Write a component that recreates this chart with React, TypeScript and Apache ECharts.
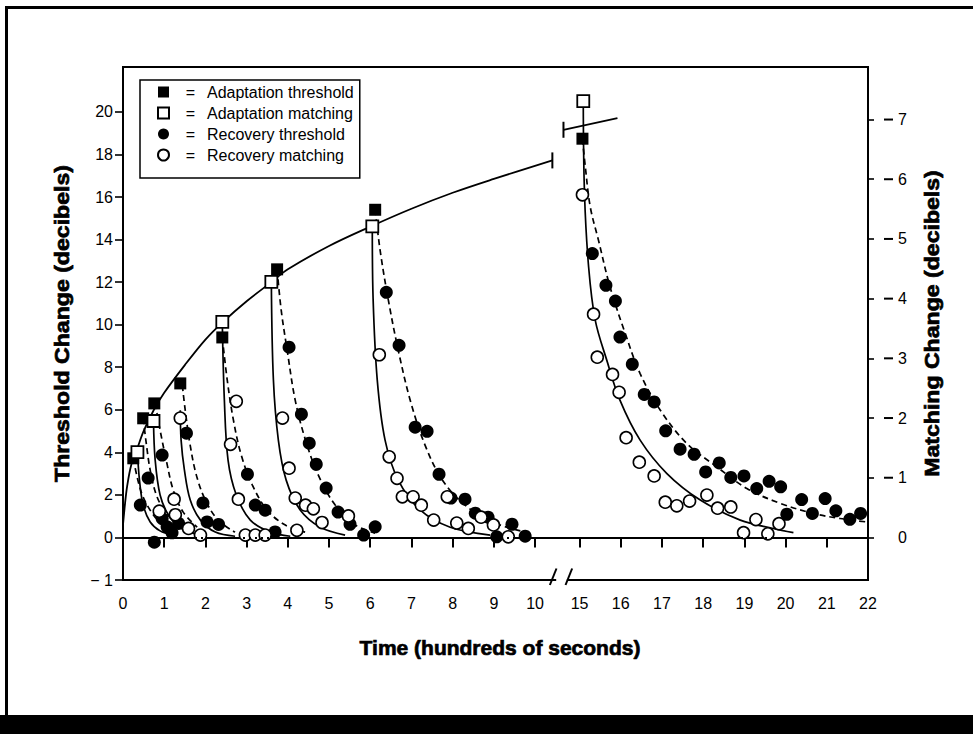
import React, { useEffect, useRef } from 'react';
import * as echarts from 'echarts';

// ---------- axis break (time axis: 0..10.5, then 15..22) ----------
const BREAK_START = 10.5;
const BREAK_END = 15;
const BREAK_WIDTH = 0.58; // axis units used by the broken stretch
const xpos = (t: number) =>
  t <= BREAK_START
    ? t
    : t >= BREAK_END
    ? t - (BREAK_END - BREAK_START - BREAK_WIDTH)
    : BREAK_START + ((t - BREAK_START) * BREAK_WIDTH) / (BREAK_END - BREAK_START);

// ---------- tick labels ----------
const xTickLabels = [0, 1, 2, 3, 4, 5, 6, 7, 8, 9, 10, 15, 16, 17, 18, 19, 20, 21, 22];
const yLeftTickValues = [-2, 0, 2, 4, 6, 8, 10, 12, 14, 16, 18, 20];
const yLeftTickLabels = ['\u2212 1', '0', '2', '4', '6', '8', '10', '12', '14', '16', '18', '20'];
const yRightTicks = [0, 1, 2, 3, 4, 5, 6, 7];

// ---------- data (time in hundreds of seconds) ----------
// Adaptation threshold (filled squares), threshold change dB
const adaptThreshold: [number, number][] = [
  [0.25, 3.72], [0.49, 5.6], [0.76, 6.3], [1.39, 7.24], [2.41, 9.4], [3.74, 12.6], [6.12, 15.4], [15.07, 18.74],
];
// Adaptation matching (open squares), matching change dB
const adaptMatching: [number, number][] = [
  [0.35, 1.43], [0.74, 1.95], [2.41, 3.61], [3.6, 4.28], [6.05, 5.21], [15.09, 7.31],
];
// Recovery threshold (filled circles), threshold change dB
const recThreshold: [number, number][] = [
  [0.42, 1.52], [0.61, 2.79], [0.76, -0.22], [0.95, 3.87], [0.95, 0.89], [1.07, 0.5], [1.19, 0.22], [1.35, 0.66],
  [1.54, 4.9], [1.94, 1.62], [2.04, 0.73], [2.32, 0.61],
  [3.02, 2.97], [3.21, 1.52], [3.45, 1.28], [3.69, 0.26],
  [4.03, 8.94], [4.33, 5.79], [4.52, 4.43], [4.69, 3.44], [4.93, 2.32], [5.22, 1.19], [5.51, 0.62], [5.84, 0.11], [6.12, 0.5],
  [6.39, 11.52], [6.7, 9.03], [7.09, 5.18], [7.38, 4.99], [7.67, 2.97], [7.96, 1.85], [8.3, 1.8], [8.55, 1.14],
  [8.86, 0.95], [9.07, 0.03], [9.44, 0.62], [9.76, 0.06],
  [15.31, 13.34], [15.64, 11.85], [15.87, 11.11], [15.98, 9.42], [16.28, 8.14], [16.57, 6.72], [16.81, 6.37],
  [17.09, 5.01], [17.44, 4.15], [17.78, 3.91], [18.06, 3.08], [18.39, 3.5], [18.67, 2.82], [18.99, 2.89],
  [19.3, 2.3], [19.6, 2.64], [19.88, 2.38], [20.03, 1.09], [20.39, 1.78], [20.65, 1.13], [20.96, 1.83],
  [21.22, 1.25], [21.56, 0.85], [21.82, 1.13],
];
// Recovery matching (open circles), matching change dB
const recMatching: [number, number][] = [
  [0.88, 0.44], [1.24, 0.64], [1.27, 0.38], [1.59, 0.15], [1.88, 0.04], [1.39, 2.0],
  [2.61, 1.56], [2.75, 2.28], [2.8, 0.64], [2.97, 0.04], [3.21, 0.04], [3.45, 0.04],
  [3.87, 2.0], [4.03, 1.16], [4.18, 0.66], [4.22, 0.12], [4.43, 0.54], [4.62, 0.48], [4.83, 0.25], [5.47, 0.36],
  [6.22, 3.06], [6.46, 1.35], [6.65, 0.99], [6.78, 0.68], [7.04, 0.68], [7.24, 0.54], [7.54, 0.29], [7.87, 0.68],
  [8.1, 0.24], [8.38, 0.15], [8.69, 0.34], [8.99, 0.21], [9.35, 0.01],
  [15.07, 5.74], [15.34, 3.74], [15.43, 3.02], [15.8, 2.73], [15.96, 2.43], [16.13, 1.67], [16.45, 1.26],
  [16.81, 1.03], [17.08, 0.59], [17.36, 0.53], [17.67, 0.61], [18.09, 0.71], [18.35, 0.49], [18.67, 0.51],
  [18.98, 0.08], [19.28, 0.3], [19.57, 0.06], [19.84, 0.23],
];

// Fitted adaptation curve (threshold change dB)
const adaptCurve: [number, number][] = [
  [0, 0.6], [0.05, 1.6], [0.1, 2.4], [0.2, 3.4], [0.35, 4.2], [0.5, 5.0], [0.75, 6.0], [1, 6.8], [1.5, 8.1],
  [2, 9.3], [2.41, 10.1], [3, 11.1], [3.6, 12.0], [4, 12.6], [5, 13.7], [6.05, 14.65], [7, 15.45], [8, 16.2],
  [9, 16.85], [10.42, 17.72],
];
const adaptCurveEnd: [number, number] = [10.42, 17.72];
const adaptContinuation: [number, number][] = [[11.97, 19.16], [15.92, 19.71]];

// Fitted recovery curves: matching (solid, matching dB) and threshold (dashed, threshold dB)
const recMatchCurves: [number, number][][] = [
  [[0.35, 1.43], [0.4, 0.96], [0.49, 0.54], [0.66, 0.26], [0.9, 0.11], [1.2, 0.04]],
  [[0.74, 1.95], [0.78, 1.3], [0.9, 0.71], [1.1, 0.38], [1.39, 0.16], [1.75, 0.06]],
  [[1.39, 2.13], [1.41, 1.63], [1.49, 1.13], [1.63, 0.63], [1.88, 0.29], [2.24, 0.09], [2.72, 0.02]],
  [[2.41, 3.61], [2.46, 2.3], [2.55, 1.29], [2.75, 0.71], [3.09, 0.29], [3.57, 0.09], [4.06, 0.02]],
  [[3.6, 4.28], [3.65, 2.64], [3.77, 1.63], [3.96, 0.96], [4.3, 0.46], [4.79, 0.17], [5.39, 0.04]],
  [[6.05, 5.21], [6.07, 3.99], [6.17, 2.64], [6.36, 1.63], [6.68, 0.96], [7.21, 0.46], [7.94, 0.17], [8.91, 0.04]],
  [[15.09, 7.31], [15.12, 5.76], [15.22, 4.53], [15.38, 3.64], [15.66, 2.97], [15.98, 2.3], [16.47, 1.63],
    [17.12, 1.07], [17.92, 0.63], [18.9, 0.29], [19.7, 0.15], [20.19, 0.08]],
];
const recThreshCurves: [number, number][][] = [
  [[0.25, 3.72], [0.35, 2.78], [0.47, 1.99], [0.66, 1.28], [0.9, 0.72], [1.27, 0.34]],
  [[0.49, 5.6], [0.57, 4.34], [0.66, 3.16], [0.81, 1.99], [1.03, 1.19], [1.34, 0.58]],
  [[0.78, 6.31], [0.9, 5.04], [1.05, 3.63], [1.22, 2.22], [1.46, 1.19], [1.8, 0.48]],
  [[1.44, 7.16], [1.51, 5.98], [1.63, 4.34], [1.78, 2.93], [2.0, 1.75], [2.31, 0.81], [2.72, 0.25]],
  [[2.41, 9.4], [2.53, 7.39], [2.68, 5.51], [2.87, 3.87], [3.14, 2.46], [3.5, 1.28], [3.94, 0.58], [4.42, 0.25]],
  [[3.74, 12.6], [3.84, 10.67], [3.985, 8.79], [4.18, 6.44], [4.43, 4.57], [4.74, 2.93], [5.15, 1.52], [5.64, 0.58], [6.12, 0.2]],
  [[6.12, 15.42], [6.24, 13.49], [6.44, 11.15], [6.68, 8.8], [6.97, 6.45], [7.33, 4.34], [7.75, 2.7], [8.3, 1.52], [9.03, 0.67], [9.88, 0.2]],
  [[15.07, 18.74], [15.14, 17.41], [15.26, 15.53], [15.46, 13.96], [15.74, 11.77], [16.11, 9.58], [16.47, 7.7],
    [16.96, 5.98], [17.6, 4.42], [18.33, 3.32], [19.06, 2.3], [19.87, 1.6], [20.67, 1.13], [21.32, 0.89], [21.97, 0.73]],
];

const NAMES = ['Adaptation threshold', 'Adaptation matching', 'Recovery threshold', 'Recovery matching'];
const FONT = '"Liberation Sans", Arial, Helvetica, sans-serif';
const X_MAX_POS = xpos(22);
const Y_LEFT_MIN = -2;
const Y_LEFT_MAX = 22.11;
const Y_RIGHT_MIN = -0.713;
const Y_RIGHT_MAX = 7.88;
const BREAK_MARKS = [10.44, 10.82]; // axis positions of the // marks

const toXY = (pts: [number, number][]) => pts.map(([t, v]) => [xpos(t), v]);

const titleStyle = (text: string) => ({
  text,
  fontSize: 21,
  fontWeight: 'bold',
  fontFamily: FONT,
  fill: '#000',
  stroke: '#000',
  lineWidth: 0.7,
  align: 'center',
  verticalAlign: 'middle',
});

export default function App() {
  const ref = useRef<HTMLDivElement>(null);
  useEffect(() => {
    const el = ref.current!;
    const chart = echarts.init(el, null, { renderer: 'svg' });
    const xTickPos = xTickLabels.map(xpos);

    const lineBase = {
      type: 'line' as const,
      symbol: 'none',
      showSymbol: false,
      smooth: 0.35,
      silent: true,
      z: 2,
      animation: false,
    };

    const series: any[] = [];
    series.push({
      ...lineBase,
      name: 'adaptCurve',
      data: toXY(adaptCurve),
      lineStyle: { color: '#000', width: 1.8 },
      markLine: {
        silent: true,
        symbol: ['none', 'none'],
        label: { show: false },
        lineStyle: { type: [2, 4], color: '#000', width: 2 },
        data: [{ yAxis: 0 }],
      },
    });
    series.push({
      ...lineBase,
      name: 'adaptCont',
      smooth: false,
      data: toXY(adaptContinuation),
      lineStyle: { color: '#000', width: 1.8 },
    });
    series.push({
      type: 'scatter',
      name: 'caps',
      silent: true,
      symbol: 'rect',
      symbolSize: [2, 16],
      itemStyle: { color: '#000', opacity: 1 },
      data: toXY([adaptCurveEnd, adaptContinuation[0]]),
      z: 3,
    });
    recMatchCurves.forEach((c, i) =>
      series.push({
        ...lineBase,
        name: 'rm' + i,
        yAxisIndex: 1,
        data: toXY(c),
        lineStyle: { color: '#000', width: 1.7 },
      })
    );
    recThreshCurves.forEach((c, i) =>
      series.push({
        ...lineBase,
        name: 'rt' + i,
        data: toXY(c),
        lineStyle: { color: '#000', width: 1.7, type: [6, 4] },
      })
    );
    series.push({
      type: 'scatter',
      name: NAMES[0],
      symbol: 'rect',
      symbolSize: 12,
      itemStyle: { color: '#000', opacity: 1 },
      data: toXY(adaptThreshold),
      z: 4,
    });
    series.push({
      type: 'scatter',
      name: NAMES[1],
      yAxisIndex: 1,
      symbol: 'rect',
      symbolSize: 12,
      itemStyle: { color: '#fff', borderColor: '#000', borderWidth: 1.8, opacity: 1 },
      data: toXY(adaptMatching),
      z: 4,
    });
    series.push({
      type: 'scatter',
      name: NAMES[2],
      symbol: 'circle',
      symbolSize: 13,
      itemStyle: { color: '#000', opacity: 1 },
      data: toXY(recThreshold),
      z: 4,
    });
    series.push({
      type: 'scatter',
      name: NAMES[3],
      yAxisIndex: 1,
      symbol: 'circle',
      symbolSize: 12,
      itemStyle: { color: '#fff', borderColor: '#000', borderWidth: 1.6, opacity: 1 },
      data: toXY(recMatching),
      z: 4,
    });

    chart.setOption({
      animation: false,
      textStyle: { fontFamily: FONT },
      grid: {
        left: 123,
        right: 105,
        top: 67,
        bottom: 154,
        show: true,
        borderColor: '#000',
        borderWidth: 2,
        outerBoundsMode: 'none',
      },
      legend: {
        data: NAMES,
        orient: 'vertical',
        left: 140,
        top: 80,
        padding: [4, 6, 15, 17],
        itemWidth: 11,
        itemHeight: 11,
        itemGap: 5,
        selectedMode: false,
        borderColor: '#000',
        borderWidth: 1.5,
        backgroundColor: '#fff',
        z: 10,
        formatter: (name: string) => `{eq|=}{t|${name}}`,
        textStyle: {
          color: '#000',
          fontSize: 16,
          fontFamily: FONT,
          rich: {
            eq: { width: 33, align: 'center', fontSize: 16, lineHeight: 18, fontFamily: FONT },
            t: { fontSize: 16, lineHeight: 18, fontFamily: FONT },
          },
        },
      },
      xAxis: {
        type: 'value',
        min: 0,
        max: X_MAX_POS,
        splitLine: { show: false },
        axisLine: { show: true, lineStyle: { color: '#000', width: 2 } },
        axisTick: { show: true, customValues: xTickPos, length: 10, lineStyle: { color: '#000', width: 2 } },
        axisLabel: {
          customValues: xTickPos,
          margin: 15,
          color: '#000',
          fontSize: 16,
          fontFamily: FONT,
          formatter: (v: number) => {
            const i = xTickPos.findIndex((p) => Math.abs(p - v) < 1e-6);
            return i >= 0 ? String(xTickLabels[i]) : '';
          },
        },
      },
      yAxis: [
        {
          type: 'value',
          min: Y_LEFT_MIN,
          max: Y_LEFT_MAX,
          splitLine: { show: false },
          axisLine: { show: true, lineStyle: { color: '#000', width: 2 } },
          axisTick: { show: true, customValues: yLeftTickValues, length: 8, lineStyle: { color: '#000', width: 1.6 } },
          axisLabel: {
            customValues: yLeftTickValues,
            margin: 10,
            color: '#000',
            fontSize: 16,
            fontFamily: FONT,
            formatter: (v: number) => {
              const i = yLeftTickValues.indexOf(Math.round(v));
              return i >= 0 ? yLeftTickLabels[i] : '';
            },
          },
        },
        {
          type: 'value',
          position: 'right',
          min: Y_RIGHT_MIN,
          max: Y_RIGHT_MAX,
          splitLine: { show: false },
          axisLine: { show: true, onZero: false, lineStyle: { color: '#000', width: 2 } },
          axisTick: { show: true, customValues: yRightTicks, length: 6, lineStyle: { color: '#000', width: 1.6 } },
          axisLabel: {
            customValues: yRightTicks,
            margin: 16,
            color: '#000',
            fontSize: 16,
            fontFamily: FONT,
            formatter: (v: number) => (Math.round(v) === 0 ? '{s|}{n|0}' : `{d|}{g|}{n|${Math.round(v)}}`),
            rich: {
              d: { width: 9, height: 2, backgroundColor: '#000', verticalAlign: 'middle' },
              g: { width: 5 },
              s: { width: 14 },
              n: { fontSize: 16, color: '#000', fontFamily: FONT },
            },
          },
        },
      ],
      series,
    });

    // decorations: frame, band, titles, axis break marks
    const [b1x, axisY] = chart.convertToPixel({ gridIndex: 0 }, [BREAK_MARKS[0], Y_LEFT_MIN]) as number[];
    const [b2x] = chart.convertToPixel({ gridIndex: 0 }, [BREAK_MARKS[1], Y_LEFT_MIN]) as number[];
    const [, yMid] = chart.convertToPixel({ gridIndex: 0 }, [0, (Y_LEFT_MIN + Y_LEFT_MAX) / 2]) as number[];
    const slash = (cx: number) => ({
      type: 'line',
      z: 20,
      shape: { x1: cx - 3.3, y1: axisY + 5, x2: cx + 3.3, y2: axisY - 11.5 },
      style: { stroke: '#000', lineWidth: 2 },
    });
    chart.setOption({
      graphic: [
        { type: 'rect', z: 20, shape: { x: 5, y: 6, width: 3, height: 710 }, style: { fill: '#000' } },
        { type: 'rect', z: 20, shape: { x: 5, y: 6, width: 968, height: 3 }, style: { fill: '#000' } },
        { type: 'rect', z: 20, shape: { x: 0, y: 715, width: 973, height: 19 }, style: { fill: '#000' } },
        { type: 'rect', z: 19, shape: { x: b1x + 3, y: axisY - 4, width: b2x - b1x - 5, height: 8 }, style: { fill: '#fff' } },
        slash(b1x),
        slash(b2x),
        { type: 'text', z: 20, x: 500, y: 647, style: titleStyle('Time (hundreds of seconds)') },
        {
          type: 'text',
          z: 20,
          x: 62,
          y: yMid,
          rotation: Math.PI / 2,
          scaleX: 1.1,
          style: titleStyle('Threshold Change (decibels)'),
        },
        {
          type: 'text',
          z: 20,
          x: 932,
          y: yMid,
          rotation: Math.PI / 2,
          scaleX: 1.1,
          style: titleStyle('Matching Change (decibels)'),
        },
      ],
    });

    return () => chart.dispose();
  }, []);

  return (
    <div
      ref={ref}
      style={{ position: 'fixed', left: 0, top: 0, width: 973, height: 734, background: '#fff' }}
    />
  );
}
